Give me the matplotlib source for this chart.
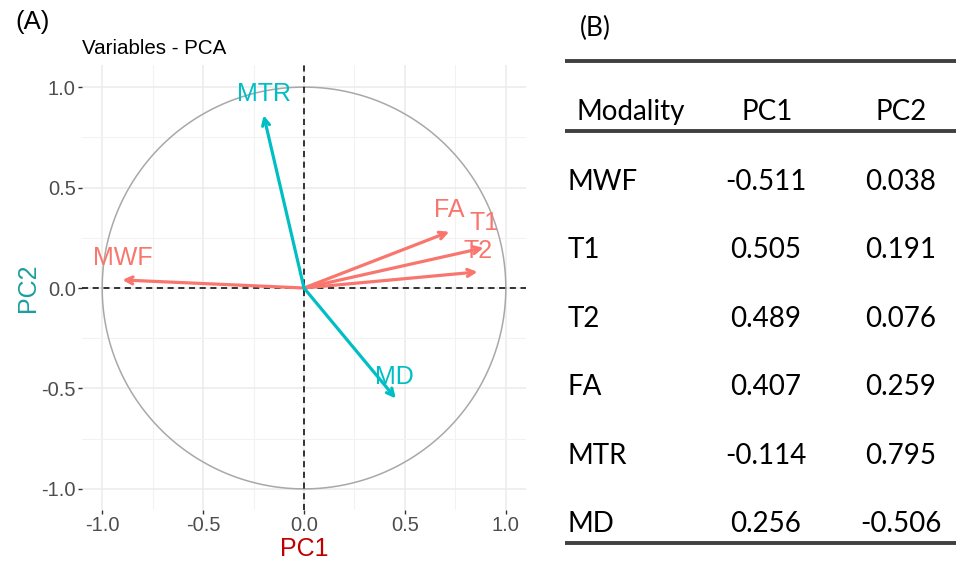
import numpy as np
import matplotlib
matplotlib.use("Agg")
import matplotlib.pyplot as plt
from matplotlib.ticker import MultipleLocator

# correlation circle coordinates
variables = ["MWF", "T1", "T2", "FA", "MTR", "MD"]
coord_pc1 = [-0.90, 0.89, 0.86, 0.72, -0.20, 0.455]
coord_pc2 = [0.04, 0.20, 0.08, 0.28, 0.86, -0.55]
groups = ["red", "red", "red", "red", "teal", "teal"]

# table values
modality = ["MWF", "T1", "T2", "FA", "MTR", "MD"]
tab_pc1 = ["-0.511", "0.505", "0.489", "0.407", "-0.114", "0.256"]
tab_pc2 = ["0.038", "0.191", "0.076", "0.259", "0.795", "-0.506"]

col = {"red": "#F8766D", "teal": "#00BFC4"}
lab_off = {"MWF": (0.0, 0.11), "T1": (0.0, 0.125), "T2": (0.0, 0.105),
           "FA": (0.0, 0.108), "MTR": (0.0, 0.105), "MD": (-0.005, 0.105)}

plt.rcParams['font.family'] = ['Liberation Sans', 'DejaVu Sans']

fig = plt.figure(figsize=(9.56, 5.61), dpi=100)
W, H = 956., 561.

ax = fig.add_axes([82/W, 1-510/H, 444/W, 445/H])
ax.set_xlim(-1.1, 1.1)
ax.set_ylim(-1.105, 1.11)
for s in ax.spines.values():
    s.set_visible(False)
ax.xaxis.set_major_locator(MultipleLocator(0.5))
ax.yaxis.set_major_locator(MultipleLocator(0.5))
ax.xaxis.set_minor_locator(MultipleLocator(0.25))
ax.yaxis.set_minor_locator(MultipleLocator(0.25))
ax.grid(which="major", color="#EBEBEB", lw=1.1)
ax.grid(which="minor", color="#F2F2F2", lw=0.8)
ax.set_axisbelow(True)
ax.tick_params(which="major", length=3, width=1, color="#333333", labelsize=14.5,
               labelcolor="#4D4D4D", pad=1.5)
ax.tick_params(which="minor", length=0)
fmt = lambda v, p: "%.1f" % v
ax.xaxis.set_major_formatter(plt.FuncFormatter(fmt))
ax.yaxis.set_major_formatter(plt.FuncFormatter(fmt))

t = np.linspace(0, 2*np.pi, 400)
ax.plot(np.cos(t), np.sin(t), color="#A8A8A8", lw=1.1, zorder=2)
ax.axhline(0, color="black", ls=(0, (4, 3)), lw=1.1, zorder=3)
ax.axvline(0, color="black", ls=(0, (4, 3)), lw=1.1, zorder=3)

for name, x, y, g in zip(variables, coord_pc1, coord_pc2, groups):
    ax.annotate("", xy=(x, y), xytext=(0, 0),
                arrowprops=dict(arrowstyle="->,head_length=0.5,head_width=0.25",
                                color=col[g], lw=2.3, shrinkA=0, shrinkB=0), zorder=4)
    dx, dy = lab_off[name]
    ax.text(x+dx, y+dy, name, color=col[g], fontsize=18, ha="center", va="center", zorder=5)

ax.set_xlabel("PC1", color="#C00000", fontsize=18, labelpad=1)
ax.set_ylabel("PC2", color="#1A9E9E", fontsize=18, labelpad=1)

fig.text(82/W, 1-48/H, "Variables - PCA", fontsize=14.8, ha="left", va="center")
fig.text(15/W, 1-22/H, "(A)", fontsize=18.5, ha="left", va="center")

# table panel in pixel coordinates
tx = fig.add_axes([0, 0, 1, 1])
tx.set_xlim(0, W)
tx.set_ylim(H, 0)
tx.axis("off")
tf = ['Lato', 'DejaVu Sans']
fs = 20
tx.text(580, 28, "(B)", fontsize=19, family=tf, ha="left", va="center")
for yl in (61, 131, 543):
    tx.plot([565, 956], [yl, yl], color="#404040", lw=2.8, solid_capstyle="butt")
tx.text(577, 112, "Modality", fontsize=fs, family=tf, ha="left", va="center")
tx.text(767, 112, "PC1", fontsize=fs, family=tf, ha="center", va="center")
tx.text(901, 112, "PC2", fontsize=fs, family=tf, ha="center", va="center")
rows_y = [182, 250, 319, 387, 456, 524]
for yy, m, a, b in zip(rows_y, modality, tab_pc1, tab_pc2):
    tx.text(568, yy, m, fontsize=fs, family=tf, ha="left", va="center")
    tx.text(766, yy, a, fontsize=fs, family=tf, ha="center", va="center")
    tx.text(901, yy, b, fontsize=fs, family=tf, ha="center", va="center")

fig.savefig("out.png", dpi=100)
